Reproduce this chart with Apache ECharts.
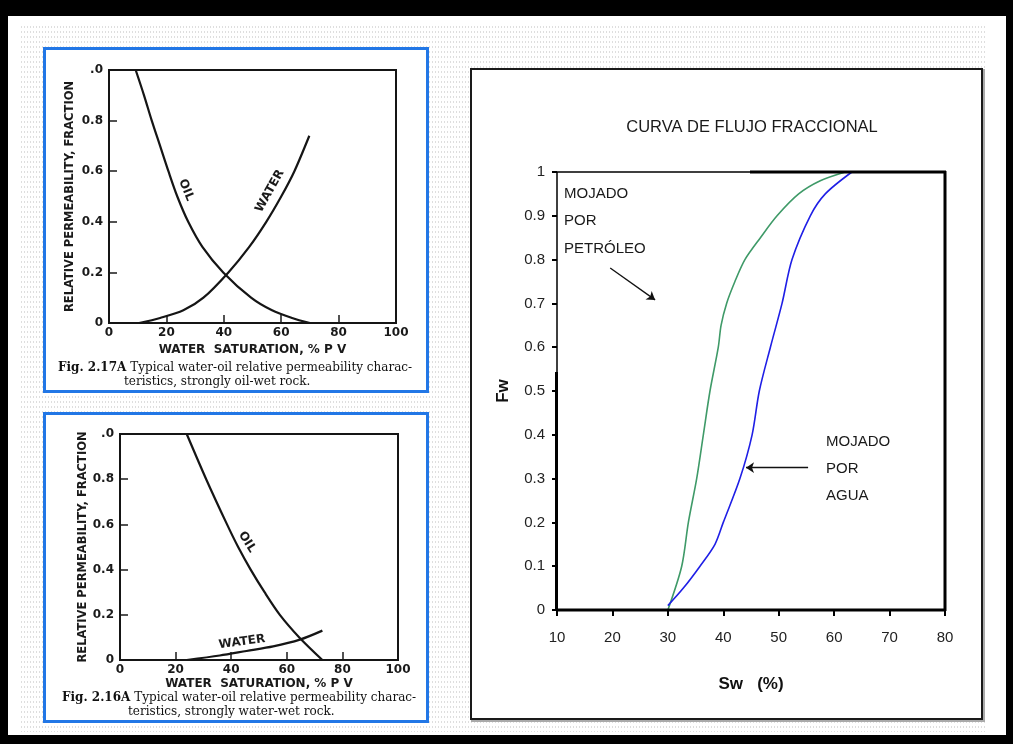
<!DOCTYPE html>
<html>
<head>
<meta charset="utf-8">
<script src="https://cdn.jsdelivr.net/npm/echarts@6/dist/echarts.min.js"></script>
<style>
html,body{margin:0;padding:0;background:#000;}
#frame{position:absolute;left:8px;top:16px;width:998px;height:719px;background:#fff;}
#dots{position:absolute;left:20px;top:25px;width:966px;height:707px;}
#chart{position:absolute;left:0;top:0;width:1013px;height:744px;}
</style>
</head>
<body>
<div id="frame"></div>
<div id="dots"></div>
<div id="chart"></div>
<script>
// ---- Data: Fig. 2.17A (strongly oil-wet rock) ----
const oilWetOilSw   = [9.3, 12.2, 14.9, 17.8, 20.7, 23.8, 27.6, 32.6, 39.8, 49.5, 56.8, 63.8, 70];
const oilWetOilKr   = [1.0, 0.9, 0.8, 0.7, 0.6, 0.5, 0.4, 0.3, 0.2, 0.1, 0.05, 0.02, 0];
const oilWetWaterSw = [10.5, 17.8, 25.9, 32.9, 41.6, 48.8, 54.8, 60.0, 64.6, 69.8];
const oilWetWaterKr = [0, 0.02, 0.05, 0.1, 0.2, 0.3, 0.4, 0.5, 0.6, 0.74];
// ---- Data: Fig. 2.16A (strongly water-wet rock) ----
const waterWetOilSw   = [24, 31, 38.5, 42.5, 47, 52, 57.5, 64.5, 72.8];
const waterWetOilKr   = [1.0, 0.8, 0.6, 0.5, 0.4, 0.3, 0.2, 0.1, 0];
const waterWetWaterSw = [24, 35.9, 45.5, 55.1, 64.7, 72.8];
const waterWetWaterKr = [0, 0.02, 0.04, 0.06, 0.09, 0.13];
// ---- Data: Curva de flujo fraccional ----
const petroleoSw = [30, 32.5, 33.7, 35.2, 36.4, 37.6, 39.1, 39.6, 40.6, 42.1, 43.9, 46.7, 49.7, 53.6, 57.5, 62];
const petroleoFw = [0, 0.1, 0.2, 0.3, 0.4, 0.5, 0.6, 0.65, 0.7, 0.75, 0.8, 0.85, 0.9, 0.95, 0.98, 1.0];
const aguaSw = [30, 32.8, 35.8, 38.5, 40, 43, 45.2, 46.5, 48.5, 50.6, 52.4, 55.7, 58.4, 63.2];
const aguaFw = [0.01, 0.05, 0.1, 0.15, 0.2, 0.3, 0.4, 0.5, 0.6, 0.7, 0.8, 0.9, 0.95, 1.0];
// arrows (data coords on the fractional flow chart)
const arrowPetroleo = [[19.6, 0.781], [27.7, 0.708]];
const arrowAgua     = [[55.3, 0.325], [44.1, 0.325]];

const zip = (a, b) => a.map((v, i) => [v, b[i]]);

// dotted background texture
(function(){
  const c = document.createElement('canvas'); c.width = 3; c.height = 5;
  const g = c.getContext('2d'); g.fillStyle = '#dedede'; g.fillRect(1, 1, 1, 2);
  document.getElementById('dots').style.backgroundImage = 'url(' + c.toDataURL() + ')';
})();

const scanFont = 'DejaVu Sans';
const scanColor = '#1a1a1a';
const arial = 'Liberation Sans, Arial, sans-serif';
const serif = 'DejaVu Serif';

function leftXAxis(gi, nameGap) {
  return {
    gridIndex: gi, type: 'value', min: 0, max: 100, interval: 20,
    name: 'WATER  SATURATION, % P V', nameLocation: 'middle', nameGap: nameGap,
    nameTextStyle: {fontFamily: scanFont, fontWeight: 'bold', fontSize: 12, color: scanColor},
    axisLine: {show: false},
    axisTick: {show: true, inside: true, length: 8, lineStyle: {color: scanColor, width: 1.5}},
    axisLabel: {fontFamily: scanFont, fontWeight: 'bold', fontSize: 12, color: scanColor, margin: 4},
    splitLine: {show: false}
  };
}
function leftYAxis(gi, nameGap) {
  return {
    gridIndex: gi, type: 'value', min: 0, max: 1, interval: 0.2,
    name: 'RELATIVE PERMEABILITY, FRACTION', nameLocation: 'middle', nameGap: nameGap,
    nameTextStyle: {fontFamily: scanFont, fontWeight: 'bold', fontSize: 11.5, color: scanColor},
    axisLine: {show: false},
    axisTick: {show: true, inside: true, length: 8, lineStyle: {color: scanColor, width: 1.5}},
    axisLabel: {fontFamily: scanFont, fontWeight: 'bold', fontSize: 12, color: scanColor, margin: 6,
      formatter: v => v === 1 ? '.0' : (v === 0 ? '0' : v.toFixed(1))},
    splitLine: {show: false}
  };
}
function scanLine(name, gi, data) {
  return {
    name: name, type: 'line', xAxisIndex: gi, yAxisIndex: gi, data: data,
    smooth: 0.3, showSymbol: false, symbol: 'none',
    lineStyle: {color: '#151515', width: 2.2}, z: 3
  };
}
function capText(x, y, text) {
  return {type: 'text', x: x, y: y, z: 5, style: {
    text: text,
    rich: {b: {fontWeight: 'bold', fontFamily: serif, fontSize: 12, fill: '#111'}},
    fontFamily: serif, fontSize: 12, fill: '#111', textAlign: 'left', textVerticalAlign: 'middle'}};
}
function curveLabel(x, y, rot, text) {
  return {type: 'text', x: x, y: y, rotation: rot, z: 5, style: {text: text, fontFamily: scanFont,
    fontWeight: 'bold', fontSize: 12, fill: scanColor, textAlign: 'center', textVerticalAlign: 'middle'}};
}
function frameSeg(x1, y1, x2, y2) {
  return {type: 'line', z: 50, zlevel: 1, shape: {x1: x1, y1: y1, x2: x2, y2: y2},
    style: {stroke: '#000', lineWidth: 3}};
}

const chart = echarts.init(document.getElementById('chart'), null, {renderer: 'canvas'});
chart.setOption({
  backgroundColor: 'transparent',
  animation: false,
  grid: [
    {left: 109, right: 617, top: 70, bottom: 421, show: true, borderColor: '#151515', borderWidth: 2, z: 1},
    {left: 120, right: 615, top: 434, bottom: 84, show: true, borderColor: '#151515', borderWidth: 2, z: 1},
    {left: 557, right: 68, top: 172, bottom: 134, show: true, borderColor: '#000', borderWidth: 1.5, z: 1}
  ],
  xAxis: [
    leftXAxis(0, 21),
    leftXAxis(1, 18),
    {
      gridIndex: 2, type: 'value', min: 10, max: 80, interval: 10,
      name: 'Sw   (%)', nameLocation: 'middle', nameGap: 66,
      nameTextStyle: {fontFamily: arial, fontWeight: 'bold', fontSize: 17, color: '#111'},
      axisLine: {show: false},
      axisTick: {show: true, length: 6, lineStyle: {color: '#000', width: 2}},
      axisLabel: {fontFamily: arial, fontSize: 15, color: '#222', margin: 20},
      splitLine: {show: false}
    }
  ],
  yAxis: [
    leftYAxis(0, 33),
    leftYAxis(1, 31),
    {
      gridIndex: 2, type: 'value', min: 0, max: 1, interval: 0.1,
      name: 'Fw', nameLocation: 'middle', nameGap: 45,
      nameTextStyle: {fontFamily: arial, fontWeight: 'bold', fontSize: 17, color: '#111'},
      axisLine: {show: false},
      axisTick: {show: true, length: 5, lineStyle: {color: '#000', width: 2}},
      axisLabel: {fontFamily: arial, fontSize: 15, color: '#222', margin: 12,
        formatter: v => String(Math.round(v * 10) / 10)},
      splitLine: {show: false}
    }
  ],
  series: [
    scanLine('OIL', 0, zip(oilWetOilSw, oilWetOilKr)),
    scanLine('WATER', 0, zip(oilWetWaterSw, oilWetWaterKr)),
    scanLine('OIL', 1, zip(waterWetOilSw, waterWetOilKr)),
    scanLine('WATER', 1, zip(waterWetWaterSw, waterWetWaterKr)),
    {
      name: 'Mojado por petróleo', type: 'line', xAxisIndex: 2, yAxisIndex: 2,
      data: zip(petroleoSw, petroleoFw), smooth: 0.3, symbol: 'none',
      lineStyle: {color: '#3f9a68', width: 1.6}, z: 3,
      markLine: {
        silent: true, symbol: ['none', 'arrow'], symbolSize: 8, label: {show: false},
        lineStyle: {color: '#111', width: 1.3, type: 'solid'},
        data: [[{coord: arrowPetroleo[0]}, {coord: arrowPetroleo[1]}]]
      }
    },
    {
      name: 'Mojado por agua', type: 'line', xAxisIndex: 2, yAxisIndex: 2,
      data: zip(aguaSw, aguaFw), smooth: 0.3, symbol: 'none',
      lineStyle: {color: '#1f1fe6', width: 1.6}, z: 3,
      markLine: {
        silent: true, symbol: ['none', 'arrow'], symbolSize: 8, label: {show: false},
        lineStyle: {color: '#111', width: 1.3, type: 'solid'},
        data: [[{coord: arrowAgua[0]}, {coord: arrowAgua[1]}]]
      }
    }
  ],
  graphic: [
    // panels
    {type: 'rect', z: -10, shape: {x: 44.5, y: 48.5, width: 383, height: 343},
      style: {fill: '#fff', stroke: '#2277e6', lineWidth: 3}},
    {type: 'rect', z: -10, shape: {x: 44.5, y: 413.5, width: 383, height: 308},
      style: {fill: '#fff', stroke: '#2277e6', lineWidth: 3}},
    {type: 'rect', z: -11, shape: {x: 472, y: 70, width: 512, height: 651},
      style: {fill: 'none', stroke: '#aaa', lineWidth: 2}},
    {type: 'rect', z: -10, shape: {x: 471, y: 69, width: 511, height: 650},
      style: {fill: '#fff', stroke: '#1a1a1a', lineWidth: 2}},
    // heavier segments of the fractional-flow frame
    frameSeg(750, 172, 946, 172),
    frameSeg(945, 171, 945, 611),
    frameSeg(556, 610, 946, 610),
    frameSeg(556.5, 372, 556.5, 611),
    // title
    {type: 'text', x: 752, y: 127, z: 5, style: {text: 'CURVA DE FLUJO FRACCIONAL', fontFamily: arial,
      fontSize: 16.5, fill: '#1a1a1a', textAlign: 'center', textVerticalAlign: 'middle'}},
    // annotations
    {type: 'text', x: 564, y: 180, z: 5, style: {text: 'MOJADO\nPOR\nPETRÓLEO', fontFamily: arial,
      fontSize: 15, lineHeight: 27.5, fill: '#1a1a1a', textAlign: 'left', textVerticalAlign: 'top'}},
    {type: 'text', x: 826, y: 428, z: 5, style: {text: 'MOJADO\nPOR\nAGUA', fontFamily: arial,
      fontSize: 15, lineHeight: 27, fill: '#1a1a1a', textAlign: 'left', textVerticalAlign: 'top'}},
    // curve labels in scanned figures
    curveLabel(186, 190, -1.19, 'OIL'),
    curveLabel(270, 191, 1.06, 'WATER'),
    curveLabel(247, 542, -1.01, 'OIL'),
    curveLabel(242, 642, 0.14, 'WATER'),
    // captions
    capText(58, 368, '{b|Fig. 2.17A} Typical water-oil relative permeability charac-'),
    capText(124, 382, 'teristics, strongly oil-wet rock.'),
    capText(62, 698, '{b|Fig. 2.16A} Typical water-oil relative permeability charac-'),
    capText(128, 712, 'teristics, strongly water-wet rock.')
  ]
});
</script>
</body>
</html>
